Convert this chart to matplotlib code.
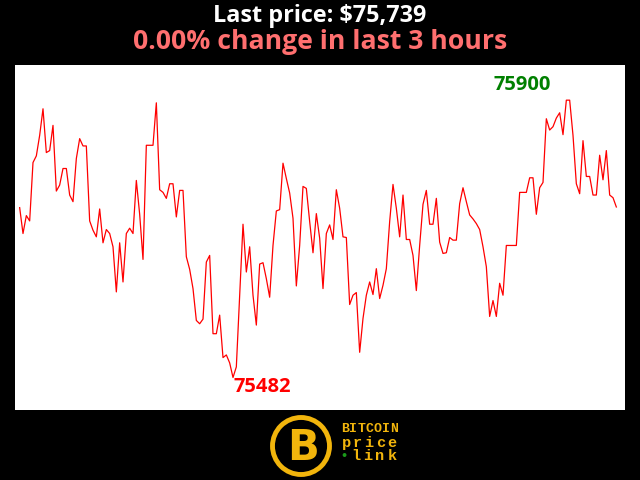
import numpy as np
import matplotlib
matplotlib.use("Agg")
import matplotlib.pyplot as plt
from matplotlib.patches import Circle

# --- Data (last 3 hours, one price per minute) ---
prices = [
    75738, 75699, 75726, 75718, 75806, 75816, 75847, 75887, 75821, 75824,
    75862, 75763, 75772, 75797, 75797, 75757, 75747, 75812, 75842, 75831,
    75831, 75718, 75704, 75694, 75736, 75685, 75705, 75699, 75679, 75611,
    75685, 75626, 75699, 75707, 75699, 75779, 75728, 75660, 75832, 75832,
    75832, 75896, 75765, 75761, 75752, 75774, 75774, 75724, 75764, 75764,
    75664, 75645, 75616, 75568, 75563, 75570, 75656, 75666, 75548, 75548,
    75576, 75512, 75516, 75504, 75482, 75498, 75606, 75713, 75641, 75679,
    75606, 75561, 75653, 75655, 75631, 75603, 75681, 75733, 75735, 75805,
    75782, 75760, 75722, 75620, 75681, 75770, 75767, 75717, 75670, 75729,
    75692, 75616, 75699, 75712, 75690, 75765, 75737, 75694, 75693, 75592,
    75606, 75610, 75520, 75571, 75606, 75626, 75607, 75646, 75601, 75621,
    75646, 75717, 75773, 75737, 75694, 75757, 75690, 75690, 75666, 75613,
    75681, 75743, 75764, 75713, 75713, 75752, 75686, 75669, 75670, 75693,
    75689, 75689, 75744, 75768, 75747, 75727, 75721, 75714, 75705, 75679,
    75649, 75574, 75598, 75574, 75624, 75606, 75681, 75681, 75681, 75681,
    75761, 75761, 75761, 75783, 75783, 75728, 75768, 75776, 75872, 75855,
    75860, 75873, 75881, 75848, 75900, 75900, 75847, 75774, 75759, 75839,
    75785, 75785, 75757, 75757, 75817, 75780, 75824, 75757, 75753, 75739,
]
title_line1 = "Last price: $75,739"
title_line2 = "0.00% change in last 3 hours"

FONT = "Open Sans"
GOLD = "#f2b50c"

x = np.arange(len(prices))
i_max = int(np.argmax(prices))
i_min = int(np.argmin(prices))

fig = plt.figure(figsize=(6.4, 4.8), dpi=100, facecolor="black")

# main price chart
ax = fig.add_axes([15 / 640, 70 / 480, 610 / 640, 345 / 480])
ax.set_facecolor("white")
ax.plot(x, prices, color="red", linewidth=0.9)
ax.set_xlim(-1.4, 181.6)
ax.set_ylim(75433, 75953)
ax.set_xticks([])
ax.set_yticks([])
for s in ax.spines.values():
    s.set_visible(False)

ax.annotate(str(prices[i_max]), (x[i_max], prices[i_max]), xytext=(-11, 4),
            textcoords="offset points", ha="right", va="bottom",
            color="green", fontsize=14.5, fontweight="bold", family=FONT)
ax.annotate(str(prices[i_min]), (x[i_min], prices[i_min]), xytext=(0, 0),
            textcoords="offset points", ha="left", va="top",
            color="red", fontsize=14.5, fontweight="bold", family=FONT)

fig.text(0.5, 1 - 16 / 480, title_line1, ha="center", va="center",
         color="white", fontsize=16.8, fontweight="bold", family=FONT)
fig.text(0.5, 1 - 42 / 480, title_line2, ha="center", va="center",
         color="#ff6f6f", fontsize=19.2, fontweight="bold", family=FONT)

# logo at the bottom
lax = fig.add_axes([0, 0, 1, 70 / 480])
lax.set_xlim(0, 640)
lax.set_ylim(480, 410)
lax.axis("off")
lax.add_patch(Circle((301, 446), 28.5, facecolor="black", edgecolor=GOLD, linewidth=3.5))
lax.text(303, 448, "B", ha="center", va="center", color=GOLD,
         fontsize=30, fontweight="bold", family="DejaVu Sans")


def spaced(x0, y0, word, step, size):
    # monospace word with wide letter spacing, like the logo lettering
    for k, ch in enumerate(word):
        lax.text(x0 + k * step, y0, ch, ha="center", va="center", color=GOLD,
                 fontsize=size, fontweight="bold", family="Liberation Mono")


spaced(345, 429, "BITCOIN", 8.2, 9.5)
spaced(346, 443, "price", 11.4, 11)
spaced(356, 456, "link", 12.0, 11)
lax.text(344, 456, "\u2022", ha="center", va="center", color="#1a9a1a",
         fontsize=8, fontweight="bold", family="DejaVu Sans")

fig.savefig("out.png", dpi=100, facecolor="black")
